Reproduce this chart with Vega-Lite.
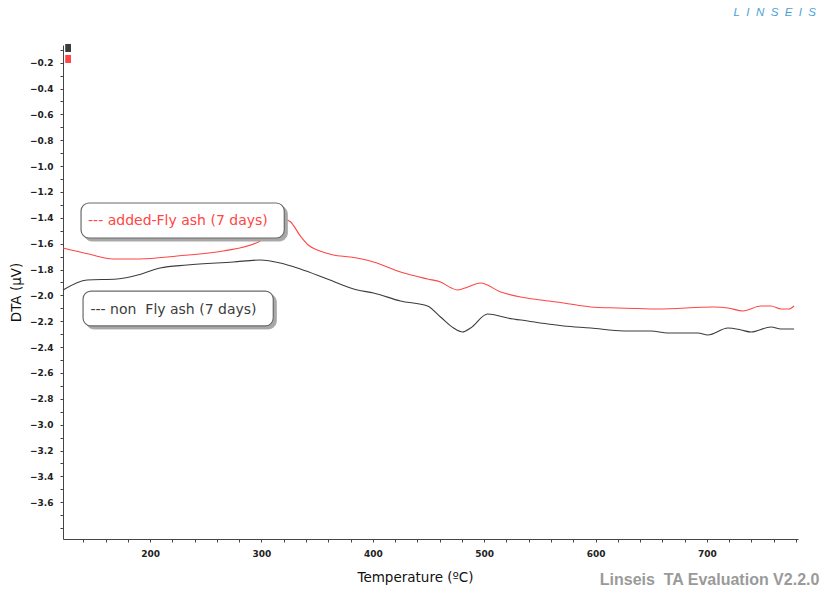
{
  "$schema": "https://vega.github.io/schema/vega-lite/v6.json",
  "width": 735,
  "height": 494,
  "autosize": {"type": "none"},
  "padding": {"left": 63, "top": 45, "right": 29, "bottom": 52},
  "background": "white",
  "config": {"view": {"stroke": null}, "font": "DejaVu Sans"},
  "datasets": {
    "dta": [
      {"series": "added", "T": 121.8, "V": -1.633},
      {"series": "added", "T": 145, "V": -1.68},
      {"series": "added", "T": 166.8, "V": -1.718},
      {"series": "added", "T": 191, "V": -1.718},
      {"series": "added", "T": 224.3, "V": -1.695},
      {"series": "added", "T": 265.7, "V": -1.656},
      {"series": "added", "T": 297.2, "V": -1.587},
      {"series": "added", "T": 310, "V": -1.5},
      {"series": "added", "T": 320, "V": -1.41},
      {"series": "added", "T": 326, "V": -1.43},
      {"series": "added", "T": 334.9, "V": -1.54},
      {"series": "added", "T": 342, "V": -1.61},
      {"series": "added", "T": 350.2, "V": -1.649},
      {"series": "added", "T": 364.6, "V": -1.687},
      {"series": "added", "T": 379.9, "V": -1.703},
      {"series": "added", "T": 400.6, "V": -1.741},
      {"series": "added", "T": 424.9, "V": -1.819},
      {"series": "added", "T": 449.1, "V": -1.873},
      {"series": "added", "T": 460.8, "V": -1.896},
      {"series": "added", "T": 470, "V": -1.94},
      {"series": "added", "T": 476, "V": -1.958},
      {"series": "added", "T": 482, "V": -1.945},
      {"series": "added", "T": 496.8, "V": -1.904},
      {"series": "added", "T": 514.8, "V": -1.973},
      {"series": "added", "T": 532.8, "V": -2.012},
      {"series": "added", "T": 550.8, "V": -2.035},
      {"series": "added", "T": 571.4, "V": -2.058},
      {"series": "added", "T": 595.7, "V": -2.089},
      {"series": "added", "T": 620, "V": -2.097},
      {"series": "added", "T": 656, "V": -2.105},
      {"series": "added", "T": 706.3, "V": -2.089},
      {"series": "added", "T": 718.9, "V": -2.097},
      {"series": "added", "T": 732.4, "V": -2.12},
      {"series": "added", "T": 748.6, "V": -2.082},
      {"series": "added", "T": 757.6, "V": -2.082},
      {"series": "added", "T": 766.6, "V": -2.105},
      {"series": "added", "T": 773.8, "V": -2.105},
      {"series": "added", "T": 778.3, "V": -2.082},
      {"series": "non", "T": 121.8, "V": -1.958},
      {"series": "non", "T": 143.4, "V": -1.881},
      {"series": "non", "T": 170.4, "V": -1.873},
      {"series": "non", "T": 190, "V": -1.84},
      {"series": "non", "T": 209, "V": -1.788},
      {"series": "non", "T": 233.3, "V": -1.765},
      {"series": "non", "T": 274.7, "V": -1.741},
      {"series": "non", "T": 299, "V": -1.726},
      {"series": "non", "T": 316.9, "V": -1.749},
      {"series": "non", "T": 334.9, "V": -1.796},
      {"series": "non", "T": 359.2, "V": -1.873},
      {"series": "non", "T": 386.2, "V": -1.958},
      {"series": "non", "T": 400.6, "V": -1.981},
      {"series": "non", "T": 424.9, "V": -2.043},
      {"series": "non", "T": 449.1, "V": -2.082},
      {"series": "non", "T": 460.8, "V": -2.167},
      {"series": "non", "T": 472.5, "V": -2.252},
      {"series": "non", "T": 480.6, "V": -2.283},
      {"series": "non", "T": 487.8, "V": -2.252},
      {"series": "non", "T": 503.1, "V": -2.144},
      {"series": "non", "T": 521.1, "V": -2.175},
      {"series": "non", "T": 539.1, "V": -2.198},
      {"series": "non", "T": 557.1, "V": -2.221},
      {"series": "non", "T": 571.4, "V": -2.236},
      {"series": "non", "T": 595.7, "V": -2.252},
      {"series": "non", "T": 625.4, "V": -2.275},
      {"series": "non", "T": 649.7, "V": -2.275},
      {"series": "non", "T": 665, "V": -2.291},
      {"series": "non", "T": 691.9, "V": -2.291},
      {"series": "non", "T": 700.9, "V": -2.306},
      {"series": "non", "T": 718.9, "V": -2.252},
      {"series": "non", "T": 730.6, "V": -2.267},
      {"series": "non", "T": 739.6, "V": -2.283},
      {"series": "non", "T": 757.6, "V": -2.244},
      {"series": "non", "T": 766.6, "V": -2.26},
      {"series": "non", "T": 778.3, "V": -2.26}
    ],
    "labels": [
      {"series": "added", "label": "--- added-Fly ash (7 days)", "bx1": 138.0, "bx2": 320.5, "by1": -1.285, "by2": -1.556, "sx1": 140.7, "sx2": 323.2, "sy1": -1.308, "sy2": -1.579, "tx": 144.3, "ty": -1.428},
      {"series": "non", "label": "--- non\u00a0 Fly ash (7 days)", "bx1": 139.8, "bx2": 310.6, "by1": -1.966, "by2": -2.236, "sx1": 142.5, "sx2": 313.3, "sy1": -1.989, "sy2": -2.259, "tx": 146.5, "ty": -2.11}
    ]
  },
  "layer": [
    {
      "data": {"name": "dta"},
      "mark": {"type": "line", "strokeWidth": 1.1, "interpolate": "monotone"},
      "encoding": {
        "x": {
          "field": "T", "type": "quantitative",
          "scale": {"domain": [121.8, 781.8], "nice": false, "zero": false},
          "axis": {
            "title": "Temperature (ºC)",
            "values": [140,160,180,200,220,240,260,280,300,320,340,360,380,400,420,440,460,480,500,520,540,560,580,600,620,640,660,680,700,720,740,760,780],
            "tickCount": 200,
            "labelExpr": "datum.value % 100 === 0 ? datum.label : ''",
            "labelOverlap": false,
            "grid": false, "tickSize": 3, "tickColor": "#444", "domainColor": "#444",
            "labelFont": "DejaVu Sans", "labelFontWeight": "bold", "labelFontSize": 9, "labelColor": "#222", "labelPadding": 7,
            "titleFont": "DejaVu Sans", "titleFontWeight": "normal", "titleFontSize": 13.5, "titleColor": "#111",
            "titleX": 352, "titleY": 38, "titleBaseline": "middle"
          }
        },
        "y": {
          "field": "V", "type": "quantitative",
          "scale": {"domain": [-3.884, -0.063], "nice": false, "zero": false},
          "axis": {
            "title": "DTA (µV)",
            "values": [-0.1,-0.2,-0.3,-0.4,-0.5,-0.6,-0.7,-0.8,-0.9,-1.0,-1.1,-1.2,-1.3,-1.4,-1.5,-1.6,-1.7,-1.8,-1.9,-2.0,-2.1,-2.2,-2.3,-2.4,-2.5,-2.6,-2.7,-2.8,-2.9,-3.0,-3.1,-3.2,-3.3,-3.4,-3.5,-3.6,-3.7,-3.8],
            "tickCount": 200,
            "labelExpr": "(abs(round(datum.value*10)) % 2 === 0 && datum.value > -3.7) ? format(datum.value, '.1f') : ''",
            "labelOverlap": false,
            "grid": false, "tickSize": 3, "tickColor": "#444", "domainColor": "#444",
            "labelFont": "DejaVu Sans", "labelFontWeight": "bold", "labelFontSize": 9, "labelColor": "#222", "labelPadding": 7,
            "titleFont": "DejaVu Sans", "titleFontWeight": "normal", "titleFontSize": 13.5, "titleColor": "#111",
            "titlePadding": 6
          }
        },
        "color": {
          "field": "series", "type": "nominal",
          "scale": {"domain": ["added", "non"], "range": ["#ff4545", "#3c3c3c"]},
          "legend": null
        }
      }
    },
    {
      "data": {"name": "labels"},
      "mark": {"type": "rect", "cornerRadius": 8, "fill": "#a8a8a8", "stroke": "#a8a8a8", "strokeWidth": 1},
      "encoding": {
        "x": {"field": "sx1", "type": "quantitative"},
        "x2": {"field": "sx2"},
        "y": {"field": "sy1", "type": "quantitative"},
        "y2": {"field": "sy2"}
      }
    },
    {
      "data": {"name": "labels"},
      "mark": {"type": "rect", "cornerRadius": 8, "fill": "white", "stroke": "#6a6a6a", "strokeWidth": 1.2},
      "encoding": {
        "x": {"field": "bx1", "type": "quantitative"},
        "x2": {"field": "bx2"},
        "y": {"field": "by1", "type": "quantitative"},
        "y2": {"field": "by2"}
      }
    },
    {
      "data": {"name": "labels"},
      "mark": {"type": "text", "align": "left", "baseline": "middle", "font": "DejaVu Sans", "fontSize": 14},
      "encoding": {
        "x": {"field": "tx", "type": "quantitative"},
        "y": {"field": "ty", "type": "quantitative"},
        "text": {"field": "label"},
        "color": {"field": "series", "type": "nominal", "scale": {"domain": ["added", "non"], "range": ["#ff2020", "#111111"]}, "legend": null}
      }
    },
    {
      "data": {"values": [{"series": "non", "a": -0.055, "b": -0.117}, {"series": "added", "a": -0.14, "b": -0.202}]},
      "mark": {"type": "rect"},
      "encoding": {
        "x": {"datum": 123.8, "type": "quantitative"},
        "x2": {"datum": 129},
        "y": {"field": "a", "type": "quantitative"},
        "y2": {"field": "b"},
        "color": {"field": "series", "type": "nominal", "scale": {"domain": ["added", "non"], "range": ["#ff0000", "#000000"]}, "legend": null}
      }
    },
    {
      "data": {"values": [{"t": "L\u00a0 I\u00a0 N\u00a0 S\u00a0 E\u00a0 I\u00a0 S"}]},
      "mark": {"type": "text", "align": "right", "baseline": "middle", "font": "Liberation Sans", "fontSize": 11.5, "fontStyle": "italic", "color": "#4a9fd8"},
      "encoding": {
        "x": {"datum": 798, "type": "quantitative"},
        "y": {"datum": 0.188, "type": "quantitative"},
        "text": {"field": "t"}
      }
    },
    {
      "data": {"values": [{"t": "Linseis\u00a0 TA Evaluation V2.2.0"}]},
      "mark": {"type": "text", "align": "right", "baseline": "middle", "font": "Liberation Sans", "fontSize": 16, "fontWeight": "bold", "color": "#9a9a9a"},
      "encoding": {
        "x": {"datum": 801, "type": "quantitative"},
        "y": {"datum": -4.2, "type": "quantitative"},
        "text": {"field": "t"}
      }
    }
  ]
}
